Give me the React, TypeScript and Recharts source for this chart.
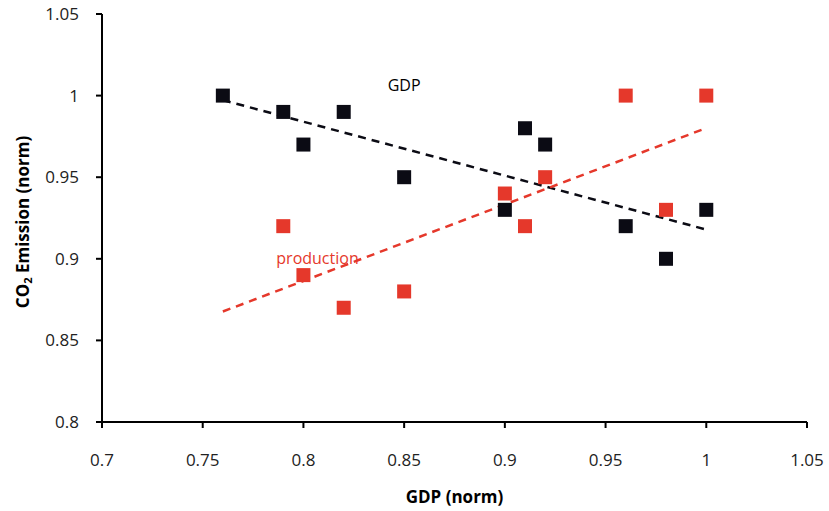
import * as React from "react"
import {
    ScatterChart,
    Scatter,
    XAxis,
    YAxis,
    ReferenceLine,
    ReferenceDot,
    Label
} from "recharts"

const gdpX = [0.76, 0.79, 0.8, 0.82, 0.85, 0.9, 0.91, 0.92, 0.96, 0.98, 1.0]
const gdpY = [1.0, 0.99, 0.97, 0.99, 0.95, 0.93, 0.98, 0.97, 0.92, 0.9, 0.93]
const prodX = [0.79, 0.8, 0.82, 0.85, 0.9, 0.91, 0.92, 0.96, 0.98, 1.0]
const prodY = [0.92, 0.89, 0.87, 0.88, 0.94, 0.92, 0.95, 1.0, 0.93, 1.0]
const xTicks = [0.7, 0.75, 0.8, 0.85, 0.9, 0.95, 1, 1.05]
const yTicks = [0.8, 0.85, 0.9, 0.95, 1, 1.05]

const BLACK = "#0b0b14"
const RED = "#e5382b"
const FONT = "'Open Sans', 'Liberation Sans', sans-serif"

const toPoints = (xs: number[], ys: number[]) => xs.map((x, i) => ({ x, y: ys[i] }))

// both trendlines run over the full GDP range
const X_MIN = Math.min(...gdpX, ...prodX)
const X_MAX = Math.max(...gdpX, ...prodX)

// least squares trendline
function trend(xs: number[], ys: number[]) {
    const n = xs.length
    const mx = xs.reduce((a, b) => a + b, 0) / n
    const my = ys.reduce((a, b) => a + b, 0) / n
    let num = 0
    let den = 0
    xs.forEach((x, i) => {
        num += (x - mx) * (ys[i] - my)
        den += (x - mx) * (x - mx)
    })
    const k = num / den
    return [
        { x: X_MIN, y: my + k * (X_MIN - mx) },
        { x: X_MAX, y: my + k * (X_MAX - mx) }
    ]
}

const fmt = (v: number) => String(Number(v.toFixed(2)))

const square = (color: string) => (p: any) => (
    <rect x={p.cx - 7} y={p.cy - 7} width={14} height={14} fill={color} />
)

const YTitle = (props: any) => {
    const vb = props.viewBox
    const cx = 22
    const cy = vb.y + vb.height / 2 + 4
    return (
        <text
            x={cx}
            y={cy}
            transform={`rotate(-90 ${cx} ${cy})`}
            textAnchor="middle"
            dominantBaseline="central"
            fontFamily={FONT}
            fontWeight={700}
            fontSize={17}
            fill="#000"
        >
            CO<tspan fontSize={11} dy={5}>2</tspan>
            <tspan dy={-5}> Emission (norm)</tspan>
        </text>
    )
}

export default function App() {
    const tickStyle = { fontSize: 17, fill: "#222", fontFamily: FONT }
    return (
        <div style={{ position: "absolute", left: 0, top: 0, background: "#fff" }}>
            <ScatterChart
                width={829}
                height={511}
                margin={{ top: 14, right: 22, bottom: 0, left: 0 }}
            >
                <XAxis
                    type="number"
                    dataKey="x"
                    domain={[0.7, 1.05]}
                    ticks={xTicks}
                    tickFormatter={fmt}
                    height={89}
                    stroke="#000"
                    strokeWidth={2}
                    tickSize={6}
                    tickMargin={26}
                    tick={tickStyle}
                    allowDataOverflow
                >
                    <Label
                        value="GDP (norm)"
                        position="insideBottom"
                        offset={8}
                        style={{ fontFamily: FONT, fontWeight: 700, fontSize: 17, fill: "#000" }}
                    />
                </XAxis>
                <YAxis
                    type="number"
                    dataKey="y"
                    domain={[0.8, 1.05]}
                    ticks={yTicks}
                    tickFormatter={fmt}
                    width={102}
                    stroke="#000"
                    strokeWidth={2}
                    tickSize={6}
                    tickMargin={17}
                    tick={tickStyle}
                    allowDataOverflow
                >
                    <Label content={YTitle} />
                </YAxis>
                <ReferenceLine
                    segment={trend(gdpX, gdpY)}
                    stroke={BLACK}
                    strokeWidth={2.5}
                    strokeDasharray="8 6"
                />
                <ReferenceLine
                    segment={trend(prodX, prodY)}
                    stroke={RED}
                    strokeWidth={2.5}
                    strokeDasharray="8 6"
                />
                <Scatter
                    name="GDP"
                    data={toPoints(gdpX, gdpY)}
                    fill={BLACK}
                    shape={square(BLACK)}
                    isAnimationActive={false}
                />
                <Scatter
                    name="production"
                    data={toPoints(prodX, prodY)}
                    fill={RED}
                    shape={square(RED)}
                    isAnimationActive={false}
                />
                <ReferenceDot x={0.85} y={1.006} r={0} fill="none" stroke="none">
                    <Label value="GDP" position="center" style={{ fontFamily: FONT, fontSize: 16, fill: "#000" }} />
                </ReferenceDot>
                <ReferenceDot x={0.807} y={0.9} r={0} fill="none" stroke="none">
                    <Label value="production" position="center" style={{ fontFamily: FONT, fontSize: 16, fill: RED }} />
                </ReferenceDot>
            </ScatterChart>
        </div>
    )
}
